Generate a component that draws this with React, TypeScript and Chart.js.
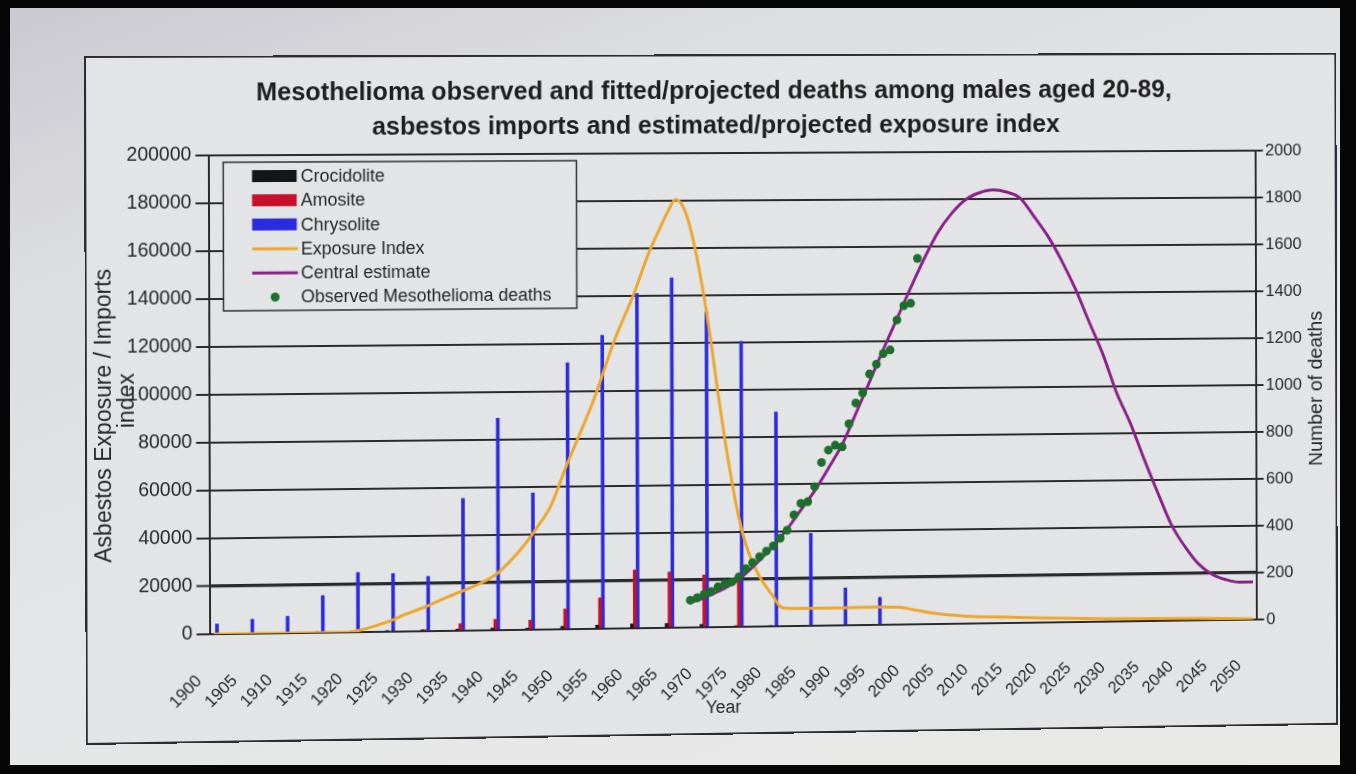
import React, { useEffect, useRef } from 'react';
import { Chart, registerables } from 'chart.js';

Chart.register(...registerables);

const FONT = '"Liberation Sans", Arial, sans-serif';

const TITLE_LINES = [
  'Mesothelioma observed and fitted/projected deaths among males aged 20-89,',
  'asbestos imports and estimated/projected exposure index',
];

const X_TICK_YEARS = [
  1900, 1905, 1910, 1915, 1920, 1925, 1930, 1935, 1940, 1945, 1950, 1955, 1960, 1965, 1970, 1975,
  1980, 1985, 1990, 1995, 2000, 2005, 2010, 2015, 2020, 2025, 2030, 2035, 2040, 2045, 2050,
];

const BAR_YEARS = [
  1900, 1905, 1910, 1915, 1920, 1925, 1930, 1935, 1940, 1945, 1950, 1955, 1960, 1965, 1970, 1975,
  1980, 1985, 1990, 1995,
];
const CROCIDOLITE = [0, 0, 0, 300, 500, 500, 600, 700, 900, 700, 1200, 1500, 1800, 1800, 1200, 500, 200, 0, 0, 0];
const AMOSITE = [0, 0, 0, 0, 0, 0, 600, 3000, 4500, 4000, 8500, 13000, 24500, 23500, 22000, 21500, 0, 0, 0, 0];
const CHRYSOLITE = [
  4200, 6000, 7000, 15500, 25000, 24300, 23000, 55500, 89000, 57500, 112000, 123500, 141000, 147500,
  133000, 120500, 90500, 39000, 15800, 11600,
];

const EXPOSURE_YEARS = [
  1900, 1910, 1919, 1921, 1925, 1927, 1930, 1933, 1935, 1938, 1940, 1942, 1944, 1946, 1948, 1950, 1952,
  1954, 1955, 1957, 1960, 1962, 1964, 1965, 1966, 1967, 1968, 1969, 1970, 1971, 1972, 1973, 1974, 1975,
  1976, 1977, 1978, 1979, 1980, 1981, 1982, 1985, 1990, 1995, 1998, 2001, 2003, 2008, 2015, 2020, 2028,
  2035, 2042, 2050,
];
const EXPOSURE_INDEX = [
  0, 0, 0, 1000, 4500, 7000, 10200, 14000, 16300, 20000, 23200, 28500, 35000, 43000, 52000, 67000, 81000,
  95000, 103000, 120000, 141000, 157000, 170000, 176000, 180500, 178000, 170000, 157000, 141000, 122000,
  100000, 80000, 62000, 46500, 35000, 27000, 21000, 16500, 12500, 8200, 7500, 7400, 7400, 7500, 7400,
  5800, 4700, 3100, 2400, 1900, 1300, 1000, 800, 300,
];

const CENTRAL_YEARS = [
  1968, 1970, 1972, 1974, 1976, 1978, 1980, 1982, 1984, 1986, 1988, 1990, 1992, 1994, 1996, 1998, 2000,
  2002, 2004, 2006, 2008, 2010, 2012, 2014, 2016, 2018, 2020, 2022, 2024, 2026, 2028, 2030, 2032, 2034,
  2036, 2038, 2040, 2042, 2044, 2046, 2048, 2050,
];
const CENTRAL_ESTIMATE = [
  105, 125, 150, 180, 225, 280, 340, 410, 490, 570, 665, 765, 895, 1030, 1165, 1295, 1425, 1550, 1660,
  1740, 1797, 1826, 1838, 1829, 1803, 1725, 1642, 1538, 1418, 1277, 1140, 975, 845, 692, 548, 410, 315,
  240, 195, 172, 160, 160,
];

const OBSERVED_YEARS = [
  1968, 1969, 1970, 1971, 1972, 1973, 1974, 1975, 1976, 1977, 1978, 1979, 1980, 1981, 1982, 1983, 1984,
  1985, 1986, 1987, 1988, 1989, 1990, 1991, 1992, 1993, 1994, 1995, 1996, 1997, 1998, 1999, 2000, 2001,
];
const OBSERVED_DEATHS = [
  115, 125, 140, 150, 170, 183, 190, 210, 245, 270, 295, 318, 340, 372, 405, 470, 518, 525, 588, 690, 742,
  762, 755, 852, 940, 982, 1062, 1103, 1148, 1163, 1290, 1350, 1360, 1550,
];

const TEXT = '#262626';
const GRID = '#2a2a2a';
const BOX_BG = '#e3e4e6';

function drawRotated(ctx: CanvasRenderingContext2D, text: string, x: number, y: number) {
  ctx.save();
  ctx.translate(x, y);
  ctx.rotate(-Math.PI / 2);
  ctx.fillText(text, 0, 0);
  ctx.restore();
}

const decorPlugin = {
  id: 'decor',
  afterDraw(chart: any) {
    const { ctx, chartArea } = chart;
    const cy = (chartArea.top + chartArea.bottom) / 2;
    ctx.save();
    ctx.fillStyle = TEXT;
    ctx.textAlign = 'center';
    ctx.textBaseline = 'middle';
    ctx.font = `23px ${FONT}`;
    drawRotated(ctx, 'Asbestos Exposure / Imports', chartArea.left - 106, cy + 20);
    drawRotated(ctx, 'index', chartArea.left - 83, cy + 5);
    ctx.font = `20px ${FONT}`;
    drawRotated(ctx, 'Number of deaths', chartArea.right + 64, cy + 4);
    ctx.font = `18px ${FONT}`;
    ctx.fillText('Year', chartArea.left + 521, chartArea.bottom + 82);

    // legend box
    const bx = chartArea.left + 14;
    const by = chartArea.top + 7;
    const bw = 358;
    const bh = 149;
    ctx.fillStyle = BOX_BG;
    ctx.fillRect(bx, by, bw, bh);
    ctx.strokeStyle = '#303030';
    ctx.lineWidth = 1.5;
    ctx.strokeRect(bx, by, bw, bh);
    ctx.font = `18px ${FONT}`;
    ctx.textAlign = 'left';
    chart.data.datasets.forEach((ds: any, i: number) => {
      const y = by + 14 + i * 24.3;
      const sx = bx + 29;
      if (ds.type === 'bar') {
        ctx.fillStyle = ds.backgroundColor;
        ctx.fillRect(sx, y - 6, 45, 12);
      } else if (ds.showLine === false) {
        ctx.fillStyle = ds.pointBackgroundColor;
        ctx.beginPath();
        ctx.arc(sx + 23, y, 4.5, 0, Math.PI * 2);
        ctx.fill();
      } else {
        ctx.strokeStyle = ds.borderColor;
        ctx.lineWidth = 3;
        ctx.beginPath();
        ctx.moveTo(sx, y);
        ctx.lineTo(sx + 46, y);
        ctx.stroke();
      }
      ctx.fillStyle = TEXT;
      ctx.fillText(ds.label, bx + 78, y + 1);
    });
    ctx.restore();
  },
};

export default function App() {
  const ref = useRef<HTMLCanvasElement>(null);

  useEffect(() => {
    const canvas = ref.current;
    if (!canvas) return;
    Chart.defaults.font.family = FONT;
    const pts = (xs: number[], ys: number[]) => xs.map((x, i) => ({ x, y: ys[i] }));
    const chart = new Chart(canvas, {
      type: 'bar',
      data: {
        datasets: [
          { type: 'bar', label: 'Crocidolite', data: pts(BAR_YEARS, CROCIDOLITE), backgroundColor: '#151515', barThickness: 3, yAxisID: 'y', order: 4 } as any,
          { type: 'bar', label: 'Amosite', data: pts(BAR_YEARS, AMOSITE), backgroundColor: '#c8102a', barThickness: 3, yAxisID: 'y', order: 4 } as any,
          { type: 'bar', label: 'Chrysolite', data: pts(BAR_YEARS, CHRYSOLITE), backgroundColor: '#2b2be0', barThickness: 3, yAxisID: 'y', order: 4 } as any,
          { type: 'line', label: 'Exposure Index', data: pts(EXPOSURE_YEARS, EXPOSURE_INDEX), borderColor: '#eca62a', borderWidth: 3, pointRadius: 0, cubicInterpolationMode: 'monotone', yAxisID: 'y', order: 3 } as any,
          { type: 'line', label: 'Central estimate', data: pts(CENTRAL_YEARS, CENTRAL_ESTIMATE), borderColor: '#8a1f8a', borderWidth: 3, pointRadius: 0, cubicInterpolationMode: 'monotone', yAxisID: 'y1', order: 2 } as any,
          { type: 'line', label: 'Observed Mesothelioma deaths', data: pts(OBSERVED_YEARS, OBSERVED_DEATHS), showLine: false, pointRadius: 4.5, pointBackgroundColor: '#1c6e2b', pointBorderWidth: 0, borderColor: '#1c6e2b', yAxisID: 'y1', order: 1 } as any,
        ],
      },
      options: {
        responsive: false,
        devicePixelRatio: 1,
        animation: false,
        layout: { padding: 0 },
        plugins: {
          legend: { display: false },
          tooltip: { enabled: false },
          title: {
            display: true,
            text: TITLE_LINES,
            color: '#1e1e1e',
            font: { family: FONT, size: 25.5, weight: 'bold', lineHeight: 1.388 },
            padding: { top: 17.8, bottom: 9.4 },
          },
        },
        scales: {
          x: {
            type: 'linear',
            offset: false,
            min: 1899.5,
            max: 2050.5,
            afterBuildTicks: (axis: any) => {
              axis.ticks = X_TICK_YEARS.map((v) => ({ value: v }));
            },
            afterFit: (s: any) => {
              s.height = 107;
            },
            ticks: {
              autoSkip: false,
              maxRotation: 45,
              minRotation: 45,
              padding: 37,
              labelOffset: -15,
              color: TEXT,
              font: { size: 17 },
              callback: (v: any) => String(v),
            },
            grid: { display: false, drawTicks: false, offset: false },
            border: { display: true, color: GRID, width: 2 },
          },
          y: {
            position: 'left',
            min: 0,
            max: 200000,
            afterFit: (s: any) => {
              s.width = 123.4;
            },
            ticks: { stepSize: 20000, padding: 4, color: TEXT, font: { size: 19.5 }, callback: (v: any) => String(v) },
            grid: {
              color: GRID,
              lineWidth: (c: any) => (c.tick && c.tick.value === 20000 ? 3.2 : 2),
              tickLength: 14,
              tickWidth: 2,
            },
            border: { display: true, color: GRID, width: 2 },
          },
          y1: {
            position: 'right',
            min: 0,
            max: 2000,
            afterFit: (s: any) => {
              s.width = 83.4;
            },
            ticks: { stepSize: 200, padding: 2.5, color: TEXT, font: { size: 17 }, callback: (v: any) => String(v) },
            grid: { drawOnChartArea: false, tickLength: 8, color: GRID, lineWidth: 2 },
            border: { display: true, color: GRID, width: 2 },
          },
        },
      } as any,
      plugins: [decorPlugin],
    });
    return () => chart.destroy();
  }, []);

  return (
    <div style={{ position: 'fixed', inset: 0, background: '#060606', overflow: 'hidden' }}>
      <div
        style={{
          position: 'absolute',
          left: 10,
          top: 8,
          width: 1330,
          height: 757,
          background: 'linear-gradient(160deg, #cbc9d1 0%, #dcdde0 22%, #e5e6e7 55%, #e9e9e7 100%)',
        }}
      >
        <div
          style={{
            position: 'absolute',
            left: 74,
            top: 47.5,
            width: 1285,
            height: 689,
            boxSizing: 'border-box',
            border: '2px solid #2c2c32',
            background: BOX_BG,
            transformOrigin: '0 0',
            transform: 'rotate(-0.15deg) perspective(2000px) rotateY(2.26deg)',
          }}
        >
          <canvas ref={ref} width={1281} height={685} style={{ display: 'block', width: 1281, height: 685 }} />
        </div>
      </div>
    </div>
  );
}
